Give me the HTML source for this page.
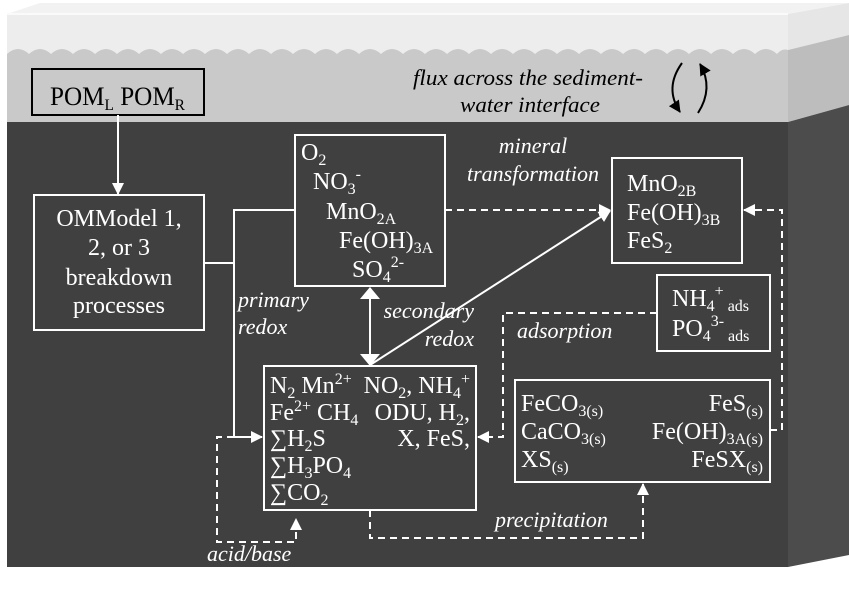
<!DOCTYPE html>
<html><head><meta charset="utf-8"><style>
html,body{margin:0;padding:0;background:#fff;}
svg{display:block;font-family:"Liberation Serif","DejaVu Serif",serif;}
svg text{font-family:"Liberation Serif","DejaVu Serif",serif !important;fill:#fff;font-size:24px;}
svg .s{font-size:16px;}
svg .i{font-style:italic;font-size:22px;}
</style></head><body>
<svg width="849" height="591" viewBox="0 0 849 591" xmlns="http://www.w3.org/2000/svg" font-family="Liberation Serif, DejaVu Serif, serif">
<defs>
<marker id="a" markerWidth="12" markerHeight="12" refX="11" refY="6" orient="auto" markerUnits="userSpaceOnUse" viewBox="0 0 12 12"><path d="M0,0 L12,6 L0,12 z" fill="#fff"/></marker>
<marker id="ab" markerWidth="12" markerHeight="12" refX="11" refY="6" orient="auto" markerUnits="userSpaceOnUse" viewBox="0 0 12 12"><path d="M0,0 L12,6 L0,12 z" fill="#000"/></marker>
</defs>
<polygon points="7,14 40,3 849,3 788,14" fill="#f2f2f2"/>
<rect x="7" y="14" width="781" height="40" fill="#ededed"/>
<rect x="7" y="13" width="781" height="2" fill="#fafafa"/>
<path d="M7,54 Q18,44 29,54 Q40,44 51,54 Q62,44 73,54 Q84,44 95,54 Q106,44 117,54 Q128,44 139,54 Q150,44 161,54 Q172,44 183,54 Q194,44 205,54 Q216,44 227,54 Q238,44 249,54 Q260,44 271,54 Q282,44 293,54 Q304,44 315,54 Q326,44 337,54 Q348,44 359,54 Q370,44 381,54 Q392,44 403,54 Q414,44 425,54 Q436,44 447,54 Q458,44 469,54 Q480,44 491,54 Q502,44 513,54 Q524,44 535,54 Q546,44 557,54 Q568,44 579,54 Q590,44 601,54 Q612,44 623,54 Q634,44 645,54 Q656,44 667,54 Q678,44 689,54 Q700,44 711,54 Q722,44 733,54 Q744,44 755,54 Q766,44 777,54 Q782,48 788,50 L788,122 L7,122 z" fill="#c9c9c9"/>
<rect x="7" y="122" width="781" height="445" fill="#404040"/>
<polygon points="788,14 849,3 849,35 788,50" fill="#e6e6e6"/>
<polygon points="788,50 849,35 849,105 788,122" fill="#bdbdbd"/>
<polygon points="788,122 849,105 849,555 788,567" fill="#4c4c4c"/>

<text class="i" x="413" y="85" textLength="230" lengthAdjust="spacingAndGlyphs" style="fill:#000">flux across the sediment-</text>
<text class="i" x="460" y="112" textLength="140" lengthAdjust="spacingAndGlyphs" style="fill:#000">water interface</text>
<path d="M682,63 Q664,88 680,112" stroke="#000" stroke-width="2" fill="none" marker-end="url(#ab)"/>
<path d="M698,113 Q714,88 700,64" stroke="#000" stroke-width="2" fill="none" marker-end="url(#ab)"/>

<rect x="32" y="69" width="172" height="46" fill="none" stroke="#000" stroke-width="2"/>
<text x="50" y="105" style="fill:#000;font-size:26px" textLength="135" lengthAdjust="spacingAndGlyphs">POM<tspan dy="5" style="font-size:16px">L</tspan><tspan dy="-5"> POM</tspan><tspan dy="5" style="font-size:16px">R</tspan></text>
<line x1="118" y1="115" x2="118" y2="194" stroke="#fff" stroke-width="2" marker-end="url(#a)"/>

<g stroke="#fff" stroke-width="2" fill="none">
<rect x="34" y="195" width="170" height="135"/>
<rect x="295" y="135" width="150" height="151"/>
<rect x="264" y="366" width="212" height="144"/>
<rect x="612" y="158" width="130" height="105"/>
<rect x="657" y="275" width="113" height="76"/>
<rect x="515" y="380" width="255" height="102"/>
<polyline points="204,263 234,263"/>
<polyline points="295,210 234,210 234,437 262,437" marker-end="url(#a)"/>
<line x1="370" y1="296" x2="370" y2="356"/>
<line x1="370" y1="365" x2="610" y2="211" marker-end="url(#a)"/>
</g>
<polygon points="370,287 360,299 380,299" fill="#fff"/>
<polygon points="370,366 360,354 380,354" fill="#fff"/>
<g stroke="#fff" stroke-width="2" fill="none" stroke-dasharray="7,5">
<line x1="445" y1="210" x2="610" y2="210" marker-end="url(#a)"/>
<polyline points="770,430 782,430 782,210 744,210" marker-end="url(#a)"/>
<polyline points="657,313 503,313 503,437 478,437" marker-end="url(#a)" />
<polyline points="370,510 370,538 643,538 643,484" marker-end="url(#a)"/>
<polyline points="234,437 217,437 217,542 296,542 296,519" marker-end="url(#a)"/>
</g>

<text x="119" y="226" text-anchor="middle">OMModel 1,</text>
<text x="119" y="255" text-anchor="middle">2, or 3</text>
<text x="119" y="285" text-anchor="middle">breakdown</text>
<text x="119" y="313" text-anchor="middle">processes</text>

<text x="301" y="160">O<tspan class="s" dy="5">2</tspan></text>
<text x="313" y="189">NO<tspan class="s" dy="5">3</tspan><tspan class="s" dy="-15">-</tspan></text>
<text x="326" y="219">MnO<tspan class="s" dy="5">2A</tspan></text>
<text x="339" y="248">Fe(OH)<tspan class="s" dy="5">3A</tspan></text>
<text x="352" y="277">SO<tspan class="s" dy="5">4</tspan><tspan class="s" dy="-15">2-</tspan></text>

<text class="i" x="533" y="153" text-anchor="middle">mineral</text>
<text class="i" x="533" y="181" text-anchor="middle">transformation</text>
<text class="i" x="238" y="307">primary</text>
<text class="i" x="238" y="334">redox</text>
<text class="i" x="474" y="318" text-anchor="end">secondary</text>
<text class="i" x="474" y="346" text-anchor="end">redox</text>
<text class="i" x="517" y="338">adsorption</text>
<text class="i" x="495" y="527">precipitation</text>
<text class="i" x="207" y="561">acid/base</text>

<text x="627" y="191">MnO<tspan class="s" dy="5">2B</tspan></text>
<text x="627" y="220">Fe(OH)<tspan class="s" dy="5">3B</tspan></text>
<text x="627" y="248">FeS<tspan class="s" dy="5">2</tspan></text>

<text x="672" y="306">NH<tspan class="s" dy="5">4</tspan><tspan class="s" dy="-15">+</tspan><tspan class="s" dy="15"> ads</tspan></text>
<text x="672" y="336">PO<tspan class="s" dy="5">4</tspan><tspan class="s" dy="-15">3-</tspan><tspan class="s" dy="15"> ads</tspan></text>

<text x="270" y="393">N<tspan class="s" dy="5">2</tspan><tspan dy="-5"> Mn</tspan><tspan class="s" dy="-9">2+</tspan></text>
<text x="270" y="420">Fe<tspan class="s" dy="-9">2+</tspan><tspan dy="9"> CH</tspan><tspan class="s" dy="5">4</tspan></text>
<text x="270" y="446">∑H<tspan class="s" dy="5">2</tspan><tspan dy="-5">S</tspan></text>
<text x="270" y="473">∑H<tspan class="s" dy="5">3</tspan><tspan dy="-5">PO</tspan><tspan class="s" dy="5">4</tspan></text>
<text x="270" y="500">∑CO<tspan class="s" dy="5">2</tspan></text>
<text x="470" y="393" text-anchor="end">NO<tspan class="s" dy="5">2</tspan><tspan dy="-5">, NH</tspan><tspan class="s" dy="5">4</tspan><tspan class="s" dy="-14">+</tspan></text>
<text x="470" y="420" text-anchor="end">ODU, H<tspan class="s" dy="5">2</tspan><tspan dy="-5">,</tspan></text>
<text x="470" y="446" text-anchor="end">X, FeS,</text>

<text x="521" y="411">FeCO<tspan class="s" dy="5">3(s)</tspan></text>
<text x="521" y="439">CaCO<tspan class="s" dy="5">3(s)</tspan></text>
<text x="521" y="467">XS<tspan class="s" dy="5">(s)</tspan></text>
<text x="763" y="411" text-anchor="end">FeS<tspan class="s" dy="5">(s)</tspan></text>
<text x="763" y="439" text-anchor="end">Fe(OH)<tspan class="s" dy="5">3A(s)</tspan></text>
<text x="763" y="467" text-anchor="end">FeSX<tspan class="s" dy="5">(s)</tspan></text>
</svg>
</body></html>
